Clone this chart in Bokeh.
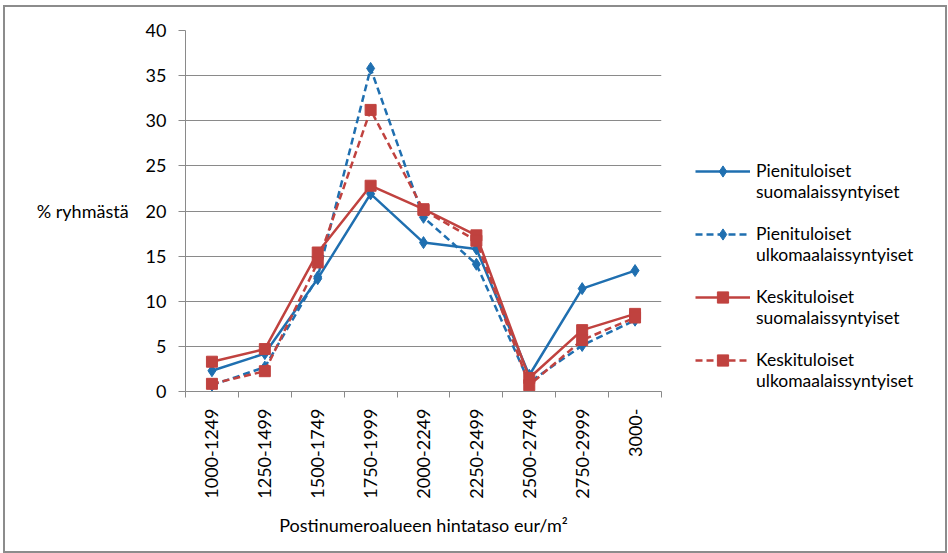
import math
from bokeh.plotting import figure
from bokeh.layouts import row
from bokeh.models import FixedTicker, Legend, LegendItem
from bokeh.embed import file_html
from bokeh.resources import INLINE

categories = ["1000-1249", "1250-1499", "1500-1749", "1750-1999", "2000-2249",
              "2250-2499", "2500-2749", "2750-2999", "3000-"]
pieni_suomi = [2.3, 4.2, 12.5, 21.9, 16.5, 15.8, 1.8, 11.4, 13.4]
pieni_ulko = [0.7, 2.7, 12.7, 35.8, 19.3, 14.1, 1.0, 5.1, 7.9]
keski_suomi = [3.3, 4.7, 15.4, 22.8, 20.2, 17.3, 1.5, 6.8, 8.6]
keski_ulko = [0.85, 2.25, 14.3, 31.2, 20.1, 16.7, 0.7, 5.7, 8.2]
y_ticks = [0, 5, 10, 15, 20, 25, 30, 35, 40]
series_labels = ["Pienituloiset\nsuomalaissyntyiset", "Pienituloiset\nulkomaalaissyntyiset",
                 "Keskituloiset\nsuomalaissyntyiset", "Keskituloiset\nulkomaalaissyntyiset"]
x_title = "Postinumeroalueen hintataso eur/m²"
y_title = "% ryhmästä"

FONT = "Lato"
BLUE = "#1f6fb0"
RED = "#c0423f"
GRAY = "#8a8a8a"

xs = [i + 0.5 for i in range(len(categories))]

# ---- main chart ----
p = figure(width=666, height=544, output_backend="svg", toolbar_location=None,
           x_range=(0, len(categories)), y_range=(0, 40),
           min_border_left=180, min_border_right=10, min_border_top=23, min_border_bottom=160)
p.outline_line_color = None
p.background_fill_color = "white"
p.border_fill_color = "white"

p.xgrid.grid_line_color = None
p.ygrid.grid_line_color = GRAY
p.ygrid.grid_line_width = 1
p.ygrid.ticker = FixedTicker(ticks=y_ticks)

yax = p.yaxis[0]
yax.ticker = FixedTicker(ticks=y_ticks)
yax.axis_line_color = GRAY
yax.major_tick_line_color = GRAY
yax.major_tick_out = 7
yax.major_tick_in = 0
yax.minor_tick_line_color = None
yax.major_label_standoff = 12
yax.major_label_text_font = FONT
yax.major_label_text_font_size = "18px"
yax.major_label_text_color = "black"
yax.axis_label = y_title
yax.axis_label_orientation = "horizontal"
yax.axis_label_standoff = 14
yax.axis_label_text_font = FONT
yax.axis_label_text_font_size = "18px"
yax.axis_label_text_font_style = "normal"
yax.axis_label_text_color = "black"

xax = p.xaxis[0]
xax.ticker = FixedTicker(ticks=xs, minor_ticks=list(range(len(categories) + 1)))
xax.major_label_overrides = {x: c for x, c in zip(xs, categories)}
xax.major_label_orientation = math.pi / 2
xax.axis_line_color = GRAY
xax.major_tick_line_color = None
xax.major_tick_out = 6
xax.major_tick_in = 0
xax.minor_tick_line_color = GRAY
xax.minor_tick_out = 6
xax.minor_tick_in = 0
xax.major_label_standoff = 11
xax.major_label_text_font = FONT
xax.major_label_text_font_size = "18px"
xax.major_label_text_color = "black"
xax.axis_label = x_title
xax.axis_label_text_font = FONT
xax.axis_label_text_font_size = "18px"
xax.axis_label_text_font_style = "normal"
xax.axis_label_text_color = "black"
xax.axis_label_standoff = 12

specs = [
    (pieni_suomi, BLUE, "solid", "diamond", 12),
    (pieni_ulko, BLUE, "7 4", "diamond", 12),
    (keski_suomi, RED, "solid", "square", 11),
    (keski_ulko, RED, "7 4", "square", 11),
]
for vals, color, dash, marker, size in specs:
    p.line(xs, vals, line_color=color, line_width=2.5, line_dash=dash)
    p.scatter(xs, vals, marker=marker, size=size, fill_color=color, line_color=color)

# ---- legend panel (legend swatches only, nothing plotted in view) ----
pl = figure(width=274, height=544, output_backend="svg", toolbar_location=None,
            x_range=(0, 1), y_range=(0, 1), x_axis_location=None, y_axis_location=None,
            min_border=0)
pl.outline_line_color = None
pl.grid.grid_line_color = None
pl.background_fill_color = "white"
pl.border_fill_color = "white"

nan = float("nan")
items = []
for (vals, color, dash, marker, size), lab in zip(specs, series_labels):
    lr = pl.line([nan], [nan], line_color=color, line_width=2.5, line_dash=dash)
    sr = pl.scatter([nan], [nan], marker=marker, size=size, fill_color=color, line_color=color)
    items.append(LegendItem(label="\n" + lab, renderers=[lr, sr]))

legend = Legend(items=items, location=(24, 0), padding=0, margin=0,
                border_line_color=None, background_fill_alpha=0,
                glyph_width=55, glyph_height=28, label_standoff=6, spacing=0,
                label_text_font=FONT, label_text_font_size="17.5px",
                label_text_color="black")
pl.add_layout(legend)

page = row(p, pl, margin=(5, 0, 0, 3), styles={"border": "2px solid #8c8c8c"})
open("out.html", "w").write(file_html(page, INLINE))
